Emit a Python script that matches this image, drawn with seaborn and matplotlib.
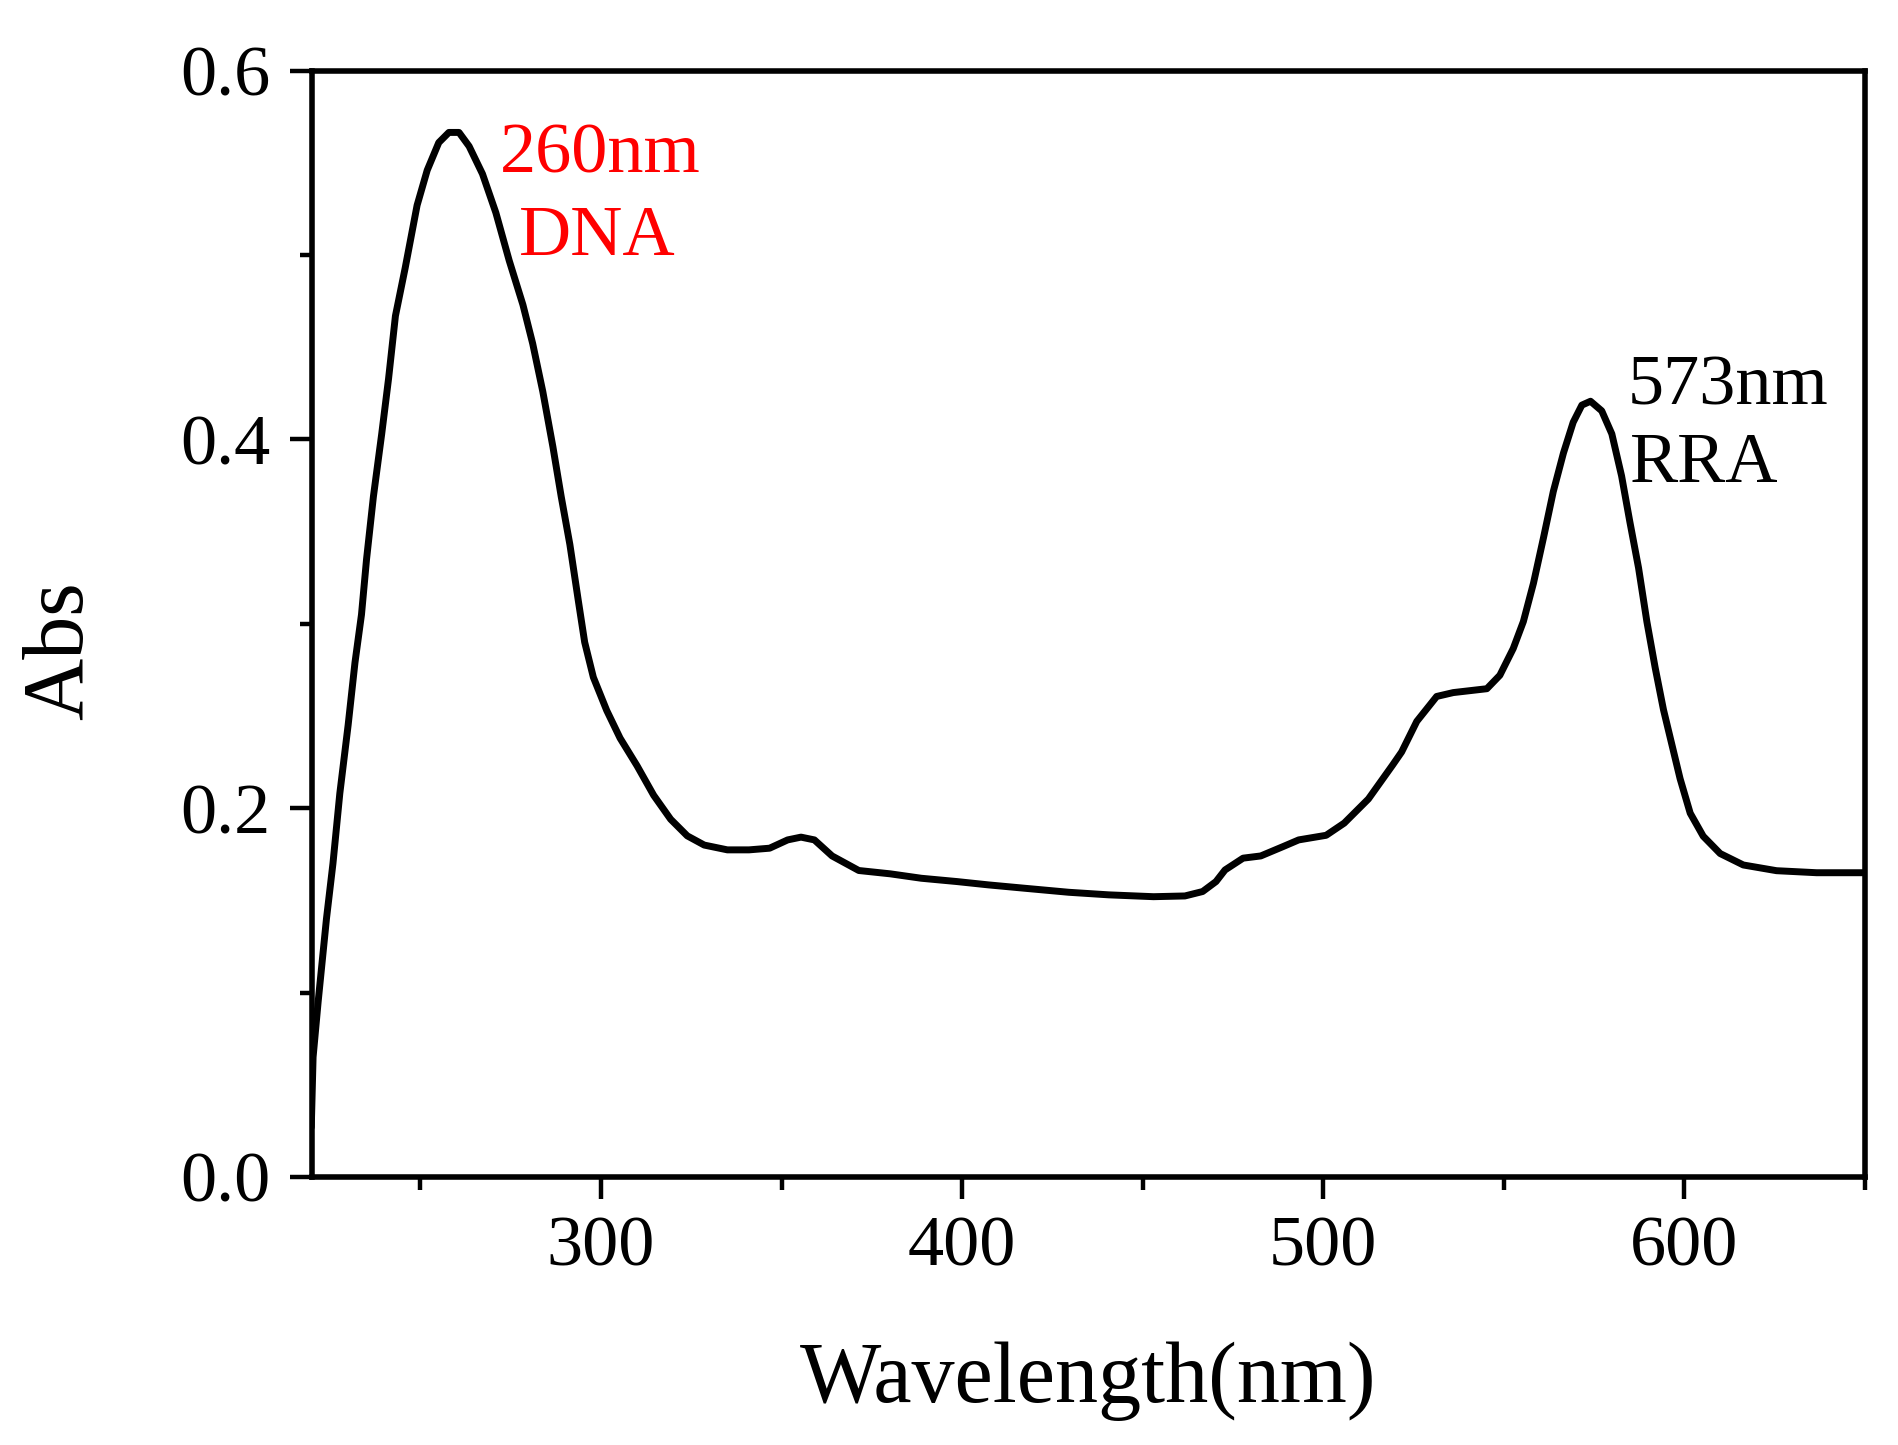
import matplotlib
matplotlib.use("Agg")
import matplotlib.pyplot as plt
from matplotlib.ticker import MultipleLocator, FormatStrFormatter
import seaborn as sns
import pandas as pd

# --- data ---
wavelength_nm = [
    219.8, 220.3, 221.7, 224.0, 225.8, 227.7, 230.0, 231.9, 233.7, 235.1,
    237.0, 239.3, 241.2, 243.1, 245.8, 249.1, 251.9, 255.1, 257.9, 260.7,
    263.5, 267.2, 270.9, 274.6, 278.4, 281.1, 283.9, 286.7, 289.0, 291.4,
    293.7, 295.5, 297.9, 301.6, 305.3, 310.0, 314.6, 319.3, 323.9, 328.6,
    335.0, 341.0, 346.7, 351.7, 355.4, 359.1, 364.0, 371.4, 380.1, 388.7,
    398.6, 407.3, 417.2, 429.5, 440.6, 453.0, 461.7, 466.6, 470.3, 472.8,
    477.8, 482.7, 488.9, 493.2, 500.8, 505.8, 512.5, 519.2, 521.7, 525.9,
    531.4, 536.0, 545.3, 548.9, 552.6, 555.4, 558.2, 561.0, 563.7, 566.5,
    569.2, 571.6, 574.0, 577.1, 579.9, 582.6, 584.9, 587.3, 589.6, 591.9,
    594.2, 596.5, 598.8, 601.6, 605.2, 609.9, 616.3, 625.5, 636.6, 649.5,
]
absorbance = [
    0.027, 0.065, 0.095, 0.140, 0.170, 0.208, 0.245, 0.279, 0.305, 0.335,
    0.369, 0.403, 0.433, 0.467, 0.493, 0.527, 0.546, 0.561, 0.5665, 0.5665,
    0.559, 0.544, 0.523, 0.497, 0.473, 0.452, 0.426, 0.396, 0.369, 0.343,
    0.313, 0.290, 0.271, 0.253, 0.238, 0.223, 0.207, 0.194, 0.185, 0.180,
    0.1774, 0.1774, 0.1783, 0.1828, 0.1843, 0.1828, 0.1741, 0.1662, 0.1644, 0.162,
    0.1602, 0.1584, 0.1566, 0.1544, 0.153, 0.152, 0.1524, 0.1548, 0.1602, 0.1665,
    0.1729, 0.1741, 0.1792, 0.1828, 0.1853, 0.1919, 0.205, 0.2234, 0.2305, 0.2471,
    0.2606, 0.2627, 0.2648, 0.2721, 0.2866, 0.3012, 0.322, 0.3469, 0.3718, 0.3926,
    0.4093, 0.4186, 0.4207, 0.4155, 0.403, 0.3802, 0.3552, 0.3303, 0.3012, 0.2762,
    0.2534, 0.2347, 0.216, 0.1973, 0.1848, 0.1754, 0.1692, 0.1661, 0.165, 0.165,
]

peak_labels = ["260nm", "DNA", "573nm", "RRA"]
peak_label_x = [272.0, 277.3, 584.4, 584.9]
peak_label_y = [0.545, 0.500, 0.419, 0.377]
peak_label_colors = ["#ff0000", "#ff0000", "black", "black"]

df = pd.DataFrame({"Wavelength": wavelength_nm, "Abs": absorbance})

sns.set_style("ticks")
plt.rcParams["font.family"] = ["Liberation Serif", "DejaVu Serif"]
plt.rcParams["text.color"] = "black"
plt.rcParams["axes.labelcolor"] = "black"

fig = plt.figure(figsize=(18.99, 14.45), dpi=100)
ax = fig.add_axes([0.1643, 0.1855, 0.8178, 0.7656])

sns.lineplot(data=df, x="Wavelength", y="Abs", color="black", lw=5.0, ax=ax,
             sort=False)

ax.set_xlim(220, 650)
ax.set_ylim(0, 0.6)
ax.xaxis.set_major_locator(MultipleLocator(100))
ax.xaxis.set_minor_locator(MultipleLocator(50))
ax.yaxis.set_major_locator(MultipleLocator(0.2))
ax.yaxis.set_minor_locator(MultipleLocator(0.1))
ax.yaxis.set_major_formatter(FormatStrFormatter("%.1f"))

for s in ax.spines.values():
    s.set_linewidth(4.0)
    s.set_color("black")

ax.tick_params(axis="both", which="major", direction="out", length=16, width=3.2,
               labelsize=52, pad=12, colors="black")
ax.tick_params(axis="both", which="minor", direction="out", length=9, width=3.2,
               colors="black")
ax.tick_params(axis="y", which="major", pad=14)

ax.set_xlabel("Wavelength(nm)", fontsize=62, color="black")
ax.set_ylabel("Abs", fontsize=62, color="black")
ax.xaxis.label.set_va("baseline")
ax.xaxis.set_label_coords(0.5, -0.2034)
ax.yaxis.label.set_va("baseline")
ax.yaxis.set_label_coords(-0.1481, 0.4756)

for txt, tx, ty, c in zip(peak_labels, peak_label_x, peak_label_y, peak_label_colors):
    ax.text(tx, ty, txt, color=c, fontsize=52, ha="left", va="baseline")

fig.savefig("out.png", dpi=100, facecolor="white")
